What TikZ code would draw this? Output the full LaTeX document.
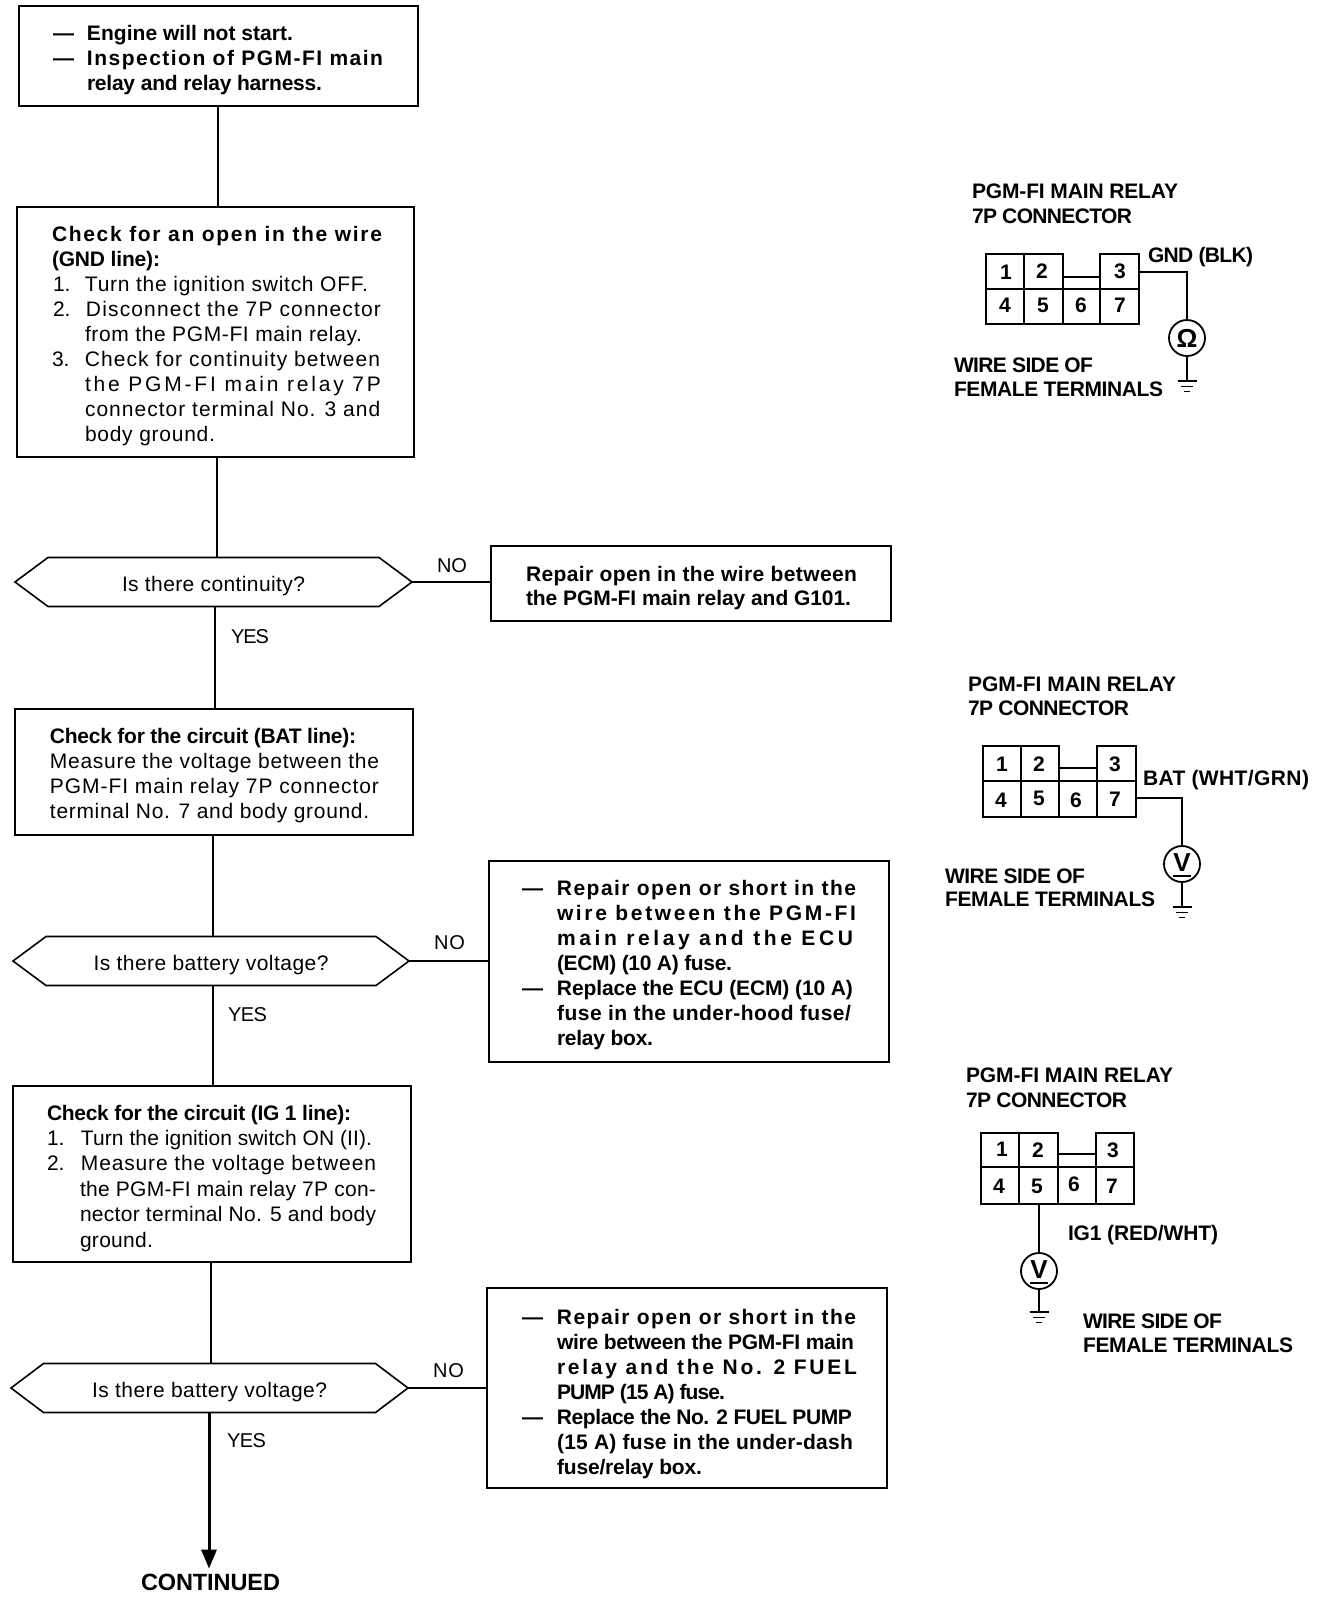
\documentclass[tikz,border=0pt]{standalone}
\usepackage{fontspec}
\usepackage{xstring}
\setmainfont{Liberation Sans}
\usetikzlibrary{arrows.meta}
\newdimen\lnh
\newdimen\bxl
\newbox\fitbox
\def\fsz{21}
% text set to span exactly from xs to xe by letter spacing (word spaces are not letter-spaced)
\newcommand\fitt[3]{\begingroup
  \setbox\fitbox=\hbox{#3}%
  \StrDel{#3}{ }[\nsp]%
  \StrLen{\nsp}[\nch]%
  \pgfmathsetmacro\lsp{100*(#2-#1-\the\wd\fitbox)/(\nch-1)/\fsz}%
  \edef\tmpf{\noexpand\addfontfeature{LetterSpace=\lsp}}%
  \hbox{\tmpf #3}\endgroup}
\newcommand\LN[3]{\hbox{\vrule width0pt height\lnh depth6pt\kern\dimexpr#1pt-\bxl\relax\fitt{#1}{#2}{#3}}}
\newcommand\LNL[5]{\hbox{\vrule width0pt height\lnh depth6pt\kern\dimexpr#1pt-\bxl\relax\rlap{#2}\kern\dimexpr#3pt-#1pt\relax\fitt{#3}{#4}{#5}}}
% name x0 y0 x1 y1 pitch firstbaseline lines
\newcommand\bx[8]{\node[boxn] (#1) at (#2,#3) {\vbox to \dimexpr#5pt-#3pt\relax{\offinterlineskip
  \lnh=\dimexpr#6pt-6pt\relax \bxl=#2pt\relax
  \hrule height0pt width\dimexpr#4pt-#2pt\relax
  \kern\dimexpr#7pt-#3pt-\lnh\relax
  #8\vss}};}
\newcommand\connbody[9]{%
  \draw[cl] (#3,#8) -- (#3,#6) -- (#1,#6) -- (#1,#9) -- (#5,#9) -- (#5,#6) -- (#4,#6) -- (#4,#8) -- cycle;
  \draw[cl] (#2,#6) -- (#2,#9) (#3,#8) -- (#3,#9) (#4,#8) -- (#4,#9) (#1,#7) -- (#5,#7);}
\newcommand\gnd[3]{% x y name of top point
  \coordinate (#3) at (#1,#2);
  \draw[wire] (#1-9.5,#2) -- (#1+9.5,#2);
  \draw[wire] (#1-6,#2+5.5) -- (#1+6,#2+5.5);
  \draw[wire] (#1-3,#2+10.5) -- (#1+3,#2+10.5);}
\newcommand\dhx[6]{% name cx cy width sepx text+fit
  \node[hexn,minimum width=#4pt] (#1) at (#2,#3) {\raisebox{-9pt}[0pt][0pt]{#6}};
  \draw[line width=1.6pt,line join=miter] (#1.west) -- ([xshift=#5pt]#1.north west) -- ([xshift=-#5pt]#1.north east) -- (#1.east) -- ([xshift=-#5pt]#1.south east) -- ([xshift=#5pt]#1.south west) -- cycle;}
\tikzset{
  x=1pt,y=-1pt,
  every node/.style={font=\fontsize{21}{25}\selectfont},
  boxn/.style={draw,line width=2.5pt,anchor=north west,inner sep=0pt,outer sep=0pt},
  hexn/.style={rectangle,minimum height=49pt,inner sep=0pt,outer sep=0pt},
  lbl/.style={anchor=base west,inner sep=0pt,outer sep=0pt},
  lbls/.style={lbl,font=\fontsize{20}{25}\selectfont},
  lblb/.style={lbl,font=\fontsize{21}{25}\selectfont\bfseries},
  pinn/.style={inner sep=0pt,outer sep=0pt,font=\fontsize{21}{25}\selectfont\bfseries},
  link/.style={line width=2pt},
  cl/.style={line width=1.4pt},
  wire/.style={line width=1.5pt},
  meter/.style={draw,circle,line width=1.8pt,minimum size=36pt,inner sep=0pt,outer sep=0pt,font=\fontsize{26}{26}\selectfont\bfseries},
}
\begin{document}
\begin{tikzpicture}
\useasboundingbox[fill=white] (0,0) rectangle (1328,1598);
\bx{b1}{19}{6}{418}{106}{25}{40}{\bfseries
  \LNL{53}{—}{87}{293}{Engine will not start.}
  \LNL{53}{—}{87}{383}{Inspection of PGM-FI main}
  \LN{87}{322}{relay and relay harness.}}
\bx{b2}{17}{207}{414}{457}{25}{241}{\bfseries
  \LN{52}{382}{Check for an open in the wire}
  \LN{52}{160}{(GND line):}\normalfont
  \LNL{53}{1.}{85}{368}{Turn the ignition switch OFF.}
  \LNL{53}{2.}{86}{381}{Disconnect the 7P connector}
  \LN{85}{362}{from the PGM-FI main relay.}
  \LNL{52}{3.}{85}{380}{Check for continuity between}
  \LN{85}{381}{the PGM-FI main relay 7P}
  \LN{85}{380}{connector terminal No. 3 and}
  \LN{85}{215}{body ground.}}
\bx{b3}{15}{709}{413}{835}{25}{743}{\bfseries
  \LN{50}{356}{Check for the circuit (BAT line):}\normalfont
  \LN{50}{379}{Measure the voltage between the}
  \LN{50}{379}{PGM-FI main relay 7P connector}
  \LN{50}{369}{terminal No. 7 and body ground.}}
\bx{b5}{13}{1086}{411}{1262}{25.4}{1120}{\bfseries
  \LN{47}{351}{Check for the circuit (IG 1 line):}\normalfont
  \LNL{47}{1.}{81}{372}{Turn the ignition switch ON (II).}
  \LNL{47}{2.}{81}{376}{Measure the voltage between}
  \LN{80}{376}{the PGM-FI main relay 7P con-}
  \LN{80}{376}{nector terminal No. 5 and body}
  \LN{80}{153}{ground.}}
\bx{r1}{491}{546}{891}{621}{24}{581}{\bfseries
  \LN{526}{857}{Repair open in the wire between}
  \LN{526}{851}{the PGM-FI main relay and G101.}}
\bx{r2}{489}{861}{889}{1062}{25}{895}{\bfseries
  \LNL{522}{—}{557}{856}{Repair open or short in the}
  \LN{557}{856}{wire between the PGM-FI}
  \LN{557}{853}{main relay and the ECU}
  \LN{557}{732}{(ECM) (10 A) fuse.}
  \LNL{522}{—}{557}{853}{Replace the ECU (ECM) (10 A)}
  \LN{557}{851}{fuse in the under-hood fuse/}
  \LN{557}{653}{relay box.}}
\bx{r3}{487}{1288}{887}{1488}{25}{1324}{\bfseries
  \LNL{522}{—}{557}{856}{Repair open or short in the}
  \LN{557}{854}{wire between the PGM-FI main}
  \LN{557}{856}{relay and the No. 2 FUEL}
  \LN{557}{725}{PUMP (15 A) fuse.}
  \LNL{522}{—}{557}{852}{Replace the No. 2 FUEL PUMP}
  \LN{557}{853}{(15 A) fuse in the under-dash}
  \LN{557}{702}{fuse/relay box.}}
\dhx{d1}{213.5}{582}{397}{33}{\fitt{122}{305}{Is there continuity?}}
\dhx{d2}{211}{961}{396}{33}{\fitt{93}{328}{Is there battery voltage?}}
\dhx{d3}{209.5}{1388}{397}{32.5}{\fitt{92}{327}{Is there battery voltage?}}
\def\fsz{20}
\node[lbls] (no1) at (437,572) {\fitt{437}{467}{NO}};
\node[lbls] (no2) at (434,949) {\fitt{434}{465}{NO}};
\node[lbls] (no3) at (433,1377) {\fitt{433}{464}{NO}};
\node[lbls] (yes1) at (231,643) {\fitt{231}{269}{YES}};
\node[lbls] (yes2) at (228,1021) {\fitt{228}{267}{YES}};
\node[lbls] (yes3) at (227,1447) {\fitt{227}{266}{YES}};
\def\fsz{23.5}
\node[lbl,font=\fontsize{23.5}{25}\selectfont\bfseries] (cont) at (141,1590) {\fitt{141}{280}{CONTINUED}};
\def\fsz{21}
% flow connectors
\coordinate (v1) at (218,0);
\coordinate (v2) at (216.5,0);
\coordinate (v3) at (215,0);
\coordinate (v4) at (213,0);
\coordinate (v5) at (213,0);
\coordinate (v6) at (211,0);
\coordinate (v7) at (209,0);
\draw[link] (b1.south -| v1) -- (b2.north -| v1);
\draw[link] (b2.south -| v2) -- (d1.north -| v2);
\draw[link,line width=2.4pt] (d1.south -| v3) -- (b3.north -| v3);
\draw[link,line width=2.4pt] (b3.south -| v4) -- (d2.north -| v4);
\draw[link] (d2.south -| v5) -- (b5.north -| v5);
\draw[link] (b5.south -| v6) -- (d3.north -| v6);
\draw[line width=3pt,-{Triangle[length=19pt,width=15pt]},shorten >=5pt] (d3.south -| v7) -- (cont.north -| v7);
\draw[link] (d1.east) -- (r1.west |- d1.east);
\draw[link] (d2.east) -- (r2.west |- d2.east);
\draw[link] (d3.east) -- (r3.west |- d3.east);
% connector 1
\node[lblb] (t1a) at (972,198) {\fitt{972}{1178}{PGM-FI MAIN RELAY}};
\node[lblb] (t1b) at (972,223) {\fitt{972}{1132}{7P CONNECTOR}};
\connbody{986}{1024}{1063}{1100}{1139}{254}{289}{277}{324}
\foreach \n/\x/\y in {1/1006/272,2/1042/271,3/1120/271,4/1005/305,5/1043/305,6/1081/305,7/1120/305}
  \node[pinn] (ca\n) at (\x,\y) {\n};
\node[lblb] (w1) at (1148,262) {\fitt{1148}{1253}{GND (BLK)}};
\node[meter] (m1) at (1187,338) {Ω};
\coordinate (e1) at (1139,272);
\draw[wire] (e1) -| (m1.north);
\gnd{1187}{381}{g1}
\draw[wire] (m1.south) -- (g1);
\node[lblb] (f1a) at (954,372) {\fitt{954}{1093}{WIRE SIDE OF}};
\node[lblb] (f1b) at (954,396) {\fitt{954}{1163}{FEMALE TERMINALS}};
% connector 2
\node[lblb] (t2a) at (968,691) {\fitt{968}{1176}{PGM-FI MAIN RELAY}};
\node[lblb] (t2b) at (968,715) {\fitt{968}{1129}{7P CONNECTOR}};
\connbody{983}{1021}{1059}{1097}{1136}{746}{781}{768}{817}
\foreach \n/\x/\y in {1/1002/764,2/1039/764,3/1115/764,4/1001/800,5/1039/798,6/1076/800,7/1115/799}
  \node[pinn] (cb\n) at (\x,\y) {\n};
\node[lblb] (w2) at (1143,785) {\fitt{1143}{1309}{BAT (WHT/GRN)}};
\node[meter] (m2) at (1182,864) {\raisebox{2pt}{V}};
\draw[wire] (1173,876) -- (1191,876);
\coordinate (e2) at (1136,798);
\draw[wire] (e2) -| (m2.north);
\gnd{1182}{907}{g2}
\draw[wire] (m2.south) -- (g2);
\node[lblb] (f2a) at (945,883) {\fitt{945}{1085}{WIRE SIDE OF}};
\node[lblb] (f2b) at (945,906) {\fitt{945}{1155}{FEMALE TERMINALS}};
% connector 3
\node[lblb] (t3a) at (966,1082) {\fitt{966}{1173}{PGM-FI MAIN RELAY}};
\node[lblb] (t3b) at (966,1107) {\fitt{966}{1127}{7P CONNECTOR}};
\connbody{981}{1019}{1058}{1096}{1134}{1133}{1167}{1154}{1204}
\foreach \n/\x/\y in {1/1002/1149,2/1038/1150,3/1113/1150,4/999/1186,5/1037/1186,6/1074/1184,7/1112/1186}
  \node[pinn] (cc\n) at (\x,\y) {\n};
\node[lblb] (w3) at (1068,1240) {\fitt{1068}{1218}{IG1 (RED/WHT)}};
\node[meter] (m3) at (1039,1271) {\raisebox{2pt}{V}};
\draw[wire] (1030,1283) -- (1048,1283);
\coordinate (e3) at (1039,1204);
\draw[line width=2pt] (e3) -- (m3.north);
\gnd{1039}{1312}{g3}
\draw[wire] (m3.south) -- (g3);
\node[lblb] (f3a) at (1083,1328) {\fitt{1083}{1222}{WIRE SIDE OF}};
\node[lblb] (f3b) at (1083,1352) {\fitt{1083}{1293}{FEMALE TERMINALS}};
\end{tikzpicture}
\end{document}
